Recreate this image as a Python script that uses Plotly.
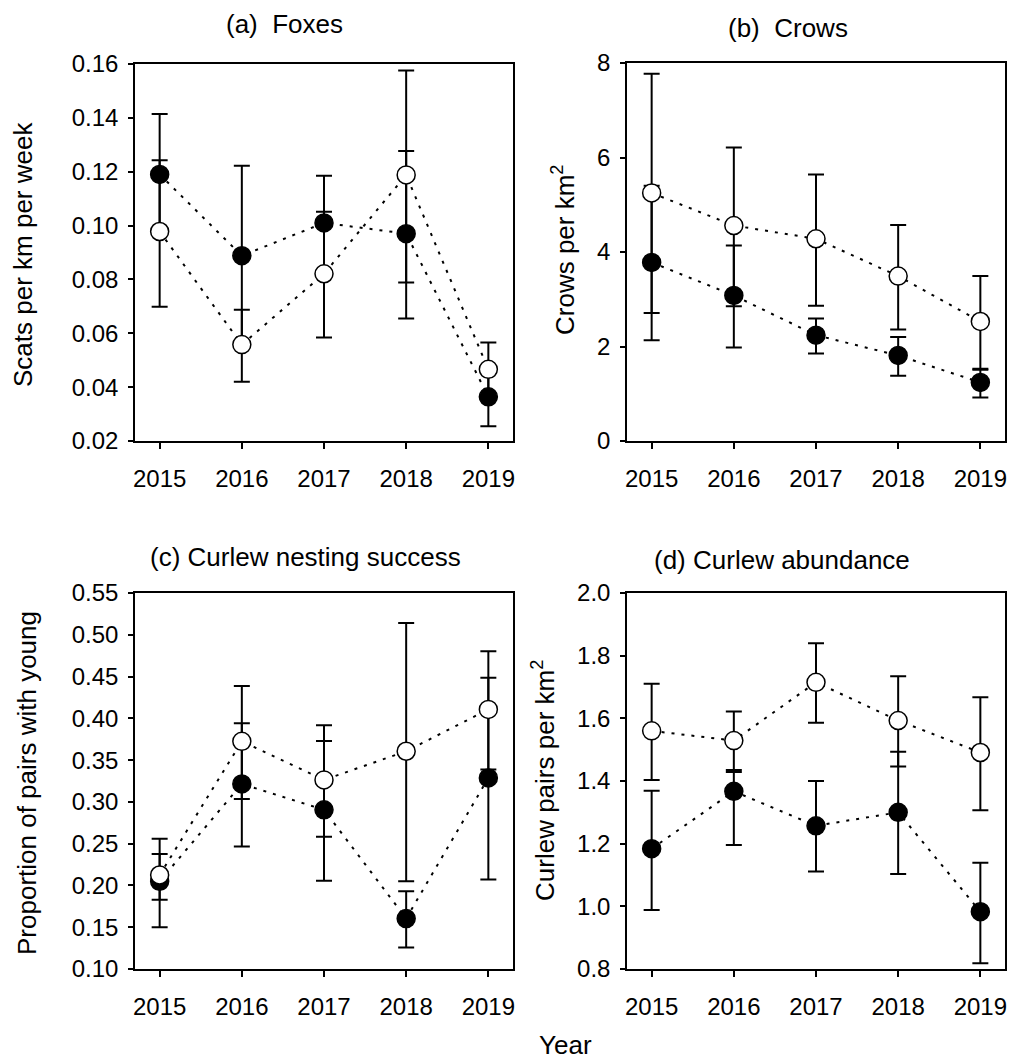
import plotly.graph_objects as go

W, H = 1011, 1061
years = [2015, 2016, 2017, 2018, 2019]

# (a) Foxes
a_fill_mean = [0.119, 0.0888, 0.101, 0.097, 0.0364]
a_fill_hi = [0.1414, 0.1222, 0.1185, 0.1277, 0.0473]
a_fill_lo = [0.0966, 0.0554, 0.0835, 0.0655, 0.0255]
a_open_mean = [0.0978, 0.0558, 0.0821, 0.1188, 0.0466]
a_open_hi = [0.1243, 0.0687, 0.1051, 0.1576, 0.0566]
a_open_lo = [0.0699, 0.0420, 0.0584, 0.0789, 0.0366]

# (b) Crows
b_fill_mean = [3.78, 3.08, 2.24, 1.81, 1.24]
b_fill_hi = [5.40, 4.14, 2.59, 2.20, 1.51]
b_fill_lo = [2.13, 1.98, 1.85, 1.38, 0.92]
b_open_mean = [5.25, 4.56, 4.28, 3.49, 2.53]
b_open_hi = [7.77, 6.21, 5.64, 4.57, 3.49]
b_open_lo = [2.71, 2.85, 2.86, 2.36, 1.53]

# (c) Curlew nesting success
c_fill_mean = [0.205, 0.3215, 0.2905, 0.1604, 0.3287]
c_fill_hi = [0.2375, 0.394, 0.3729, 0.193, 0.4485]
c_fill_lo = [0.150, 0.3036, 0.2057, 0.1257, 0.207]
c_open_mean = [0.2125, 0.3725, 0.3263, 0.3606, 0.4107]
c_open_hi = [0.256, 0.4386, 0.3916, 0.5142, 0.4803]
c_open_lo = [0.183, 0.2467, 0.2583, 0.205, 0.3387]

# (d) Curlew abundance
d_fill_mean = [1.184, 1.367, 1.257, 1.300, 0.983]
d_fill_hi = [1.369, 1.429, 1.400, 1.493, 1.139]
d_fill_lo = [0.988, 1.196, 1.111, 1.103, 0.818]
d_open_mean = [1.560, 1.529, 1.715, 1.593, 1.491]
d_open_hi = [1.710, 1.622, 1.840, 1.734, 1.667]
d_open_lo = [1.403, 1.435, 1.586, 1.446, 1.307]

panels = [
    (a_fill_mean, a_fill_hi, a_fill_lo, a_open_mean, a_open_hi, a_open_lo),
    (b_fill_mean, b_fill_hi, b_fill_lo, b_open_mean, b_open_hi, b_open_lo),
    (c_fill_mean, c_fill_hi, c_fill_lo, c_open_mean, c_open_hi, c_open_lo),
    (d_fill_mean, d_fill_hi, d_fill_lo, d_open_mean, d_open_hi, d_open_lo),
]

FONT = "Liberation Sans, Arial, sans-serif"

fig = go.Figure()

def px_x(p):
    return p / W

def px_y(p):
    return 1 - p / H

# pixel boxes: (left, right, top, bottom)
boxes = [(135, 513, 64, 441), (627, 1005, 63, 441), (135, 513, 593, 969), (627, 1005, 593, 969)]
yranges = [[0.02, 0.16], [0, 8], [0.10, 0.55], [0.8, 2.0]]
ydticks = [0.02, 2, 0.05, 0.2]
yformats = [".2f", "d", ".2f", ".1f"]

dotdash = "3px,7px"
for i, (fm, fh, fl, om, oh, ol) in enumerate(panels):
    sfx = "" if i == 0 else str(i + 1)
    xa, ya = "x" + sfx, "y" + sfx
    for mean, hi, lo, fill in [(fm, fh, fl, "black"), (om, oh, ol, "white")]:
        fig.add_trace(go.Scatter(
            x=years, y=mean, xaxis=xa, yaxis=ya, mode="lines+markers",
            line=dict(color="black", width=2, dash=dotdash),
            marker=dict(size=18, color=fill, line=dict(color="black", width=1.5)),
            error_y=dict(type="data", symmetric=False,
                         array=[h - m for h, m in zip(hi, mean)],
                         arrayminus=[m - l for m, l in zip(mean, lo)],
                         color="black", thickness=2, width=8),
            showlegend=False, hoverinfo="skip",
        ))
    l, r, t, b = boxes[i]
    axcommon = dict(showline=True, linecolor="black", linewidth=1.5, mirror=True,
                    ticks="outside", tickcolor="black", tickwidth=1.5,
                    showgrid=False, zeroline=False, automargin=False,
                    tickfont=dict(family=FONT, size=24, color="black"))
    fig.layout["xaxis" + sfx] = dict(
        domain=[px_x(l), px_x(r)], range=[2014.7, 2019.3], anchor=ya,
        tickvals=years, ticklen=6, ticklabelstandoff=9, **axcommon)
    fig.layout["yaxis" + sfx] = dict(
        domain=[px_y(b), px_y(t)], range=yranges[i], anchor=xa,
        tick0=yranges[i][0], dtick=ydticks[i], tickformat=yformats[i], ticklen=5,
        ticklabelstandoff=5, **axcommon)

annots = [
    ("(a)\u00a0 Foxes", 284, 24, 0),
    ("(b)\u00a0 Crows", 788, 28, 0),
    ("(c) Curlew nesting success", 305, 557, 0),
    ("(d) Curlew abundance", 782, 560, 0),
    ("Year", 565, 1045, 0),
    ("Scats per km per week", 23, 255, -90),
    ("Crows per km<sup>2</sup>", 563, 250, -90),
    ("Proportion of pairs with young", 27, 783, -90),
    ("Curlew pairs per km<sup>2</sup>", 543, 781, -90),
]
for text, x, y, ang in annots:
    fig.add_annotation(text=text, x=px_x(x), y=px_y(y), xref="paper", yref="paper",
                       xanchor="center", yanchor="middle", showarrow=False,
                       textangle=ang, font=dict(family=FONT, size=26, color="black"))

fig.update_layout(template="none", width=W, height=H,
                  margin=dict(l=0, r=0, t=0, b=0, autoexpand=False),
                  paper_bgcolor="white", plot_bgcolor="white")
fig.write_html("out.html", config={"displayModeBar": False},
               post_script="document.body.style.margin='0px';document.body.style.overflow='hidden';")
